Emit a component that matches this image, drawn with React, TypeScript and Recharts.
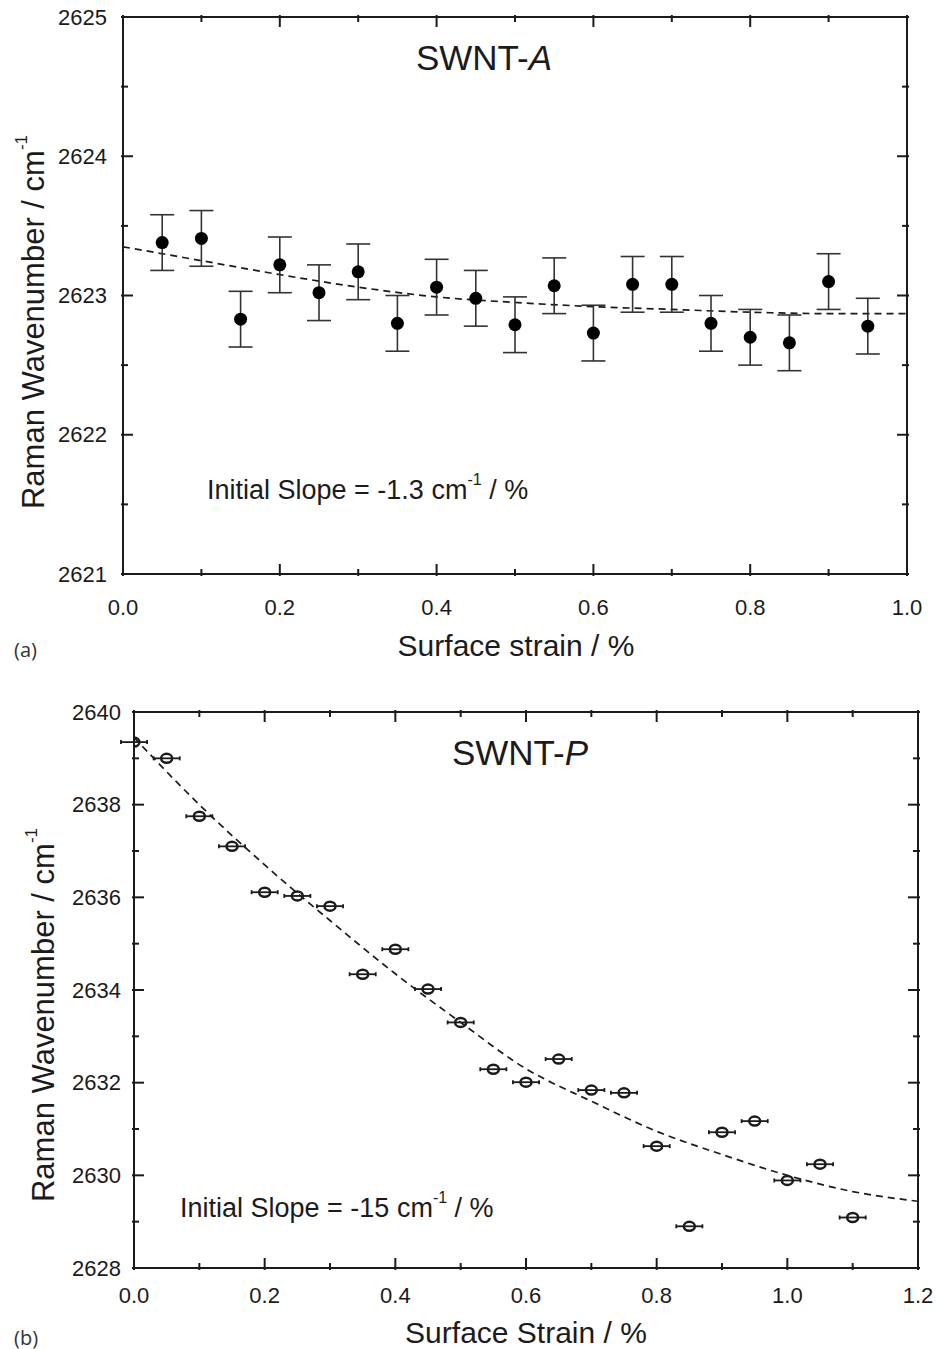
import React from 'react';
import { ComposedChart, Scatter, Line, XAxis, YAxis, ErrorBar } from 'recharts';

// panel (a) SWNT-A
const strainA = [0.05, 0.1, 0.15, 0.2, 0.25, 0.3, 0.35, 0.4, 0.45, 0.5, 0.55, 0.6, 0.65, 0.7, 0.75, 0.8, 0.85, 0.9, 0.95];
const shiftA = [2623.38, 2623.41, 2622.83, 2623.22, 2623.02, 2623.17, 2622.8, 2623.06, 2622.98, 2622.79, 2623.07, 2622.73, 2623.08, 2623.08, 2622.8, 2622.7, 2622.66, 2623.1, 2622.78];
const errA = [0.2, 0.2, 0.2, 0.2, 0.2, 0.2, 0.2, 0.2, 0.2, 0.2, 0.2, 0.2, 0.2, 0.2, 0.2, 0.2, 0.2, 0.2, 0.2];
const fitStrainA = [0, 0.1, 0.2, 0.3, 0.4, 0.5, 0.6, 0.7, 0.8, 0.9, 1.0];
const fitShiftA = [2623.35, 2623.25, 2623.15, 2623.06, 2622.99, 2622.95, 2622.92, 2622.9, 2622.88, 2622.87, 2622.87];
const yTicksA = [2621, 2621.5, 2622, 2622.5, 2623, 2623.5, 2624, 2624.5, 2625];
const yMajorA = [2621, 2622, 2623, 2624, 2625];
const xTicksA = [0, 0.1, 0.2, 0.3, 0.4, 0.5, 0.6, 0.7, 0.8, 0.9, 1.0];
const xMajorA = [0, 0.2, 0.4, 0.6, 0.8, 1.0];

// panel (b) SWNT-P
const strainB = [0, 0.05, 0.1, 0.15, 0.2, 0.25, 0.3, 0.35, 0.4, 0.45, 0.5, 0.55, 0.6, 0.65, 0.7, 0.75, 0.8, 0.85, 0.9, 0.95, 1.0, 1.05, 1.1];
const shiftB = [2639.35, 2639.0, 2637.75, 2637.1, 2636.11, 2636.03, 2635.81, 2634.34, 2634.88, 2634.02, 2633.3, 2632.29, 2632.01, 2632.51, 2631.84, 2631.78, 2630.63, 2628.9, 2630.93, 2631.17, 2629.89, 2630.24, 2629.09];
const errB = [0.02, 0.02, 0.02, 0.02, 0.02, 0.02, 0.02, 0.02, 0.02, 0.02, 0.02, 0.02, 0.02, 0.02, 0.02, 0.02, 0.02, 0.02, 0.02, 0.02, 0.02, 0.02, 0.02];
const fitStrainB = [0, 0.1, 0.2, 0.3, 0.4, 0.5, 0.6, 0.7, 0.8, 0.9, 1.0, 1.1, 1.2];
const fitShiftB = [2639.45, 2638.0, 2636.7, 2635.5, 2634.35, 2633.3, 2632.3, 2631.6, 2630.95, 2630.45, 2630.0, 2629.65, 2629.44];
const yTicksB = [2628, 2629, 2630, 2631, 2632, 2633, 2634, 2635, 2636, 2637, 2638, 2639, 2640];
const yMajorB = [2628, 2630, 2632, 2634, 2636, 2638, 2640];
const xTicksB = [0, 0.1, 0.2, 0.3, 0.4, 0.5, 0.6, 0.7, 0.8, 0.9, 1.0, 1.1, 1.2];
const xMajorB = [0, 0.2, 0.4, 0.6, 0.8, 1.0, 1.2];

const INK = '#1b1b1b';
const FONT = '"Liberation Sans", Arial, sans-serif';

const isIn = (list: number[], v: number) => list.some((m) => Math.abs(m - v) < 1e-6);

// ticks point into the plot, majors longer, labels only on majors of the left/bottom axes
function makeTick(side: 'left' | 'right' | 'top' | 'bottom', majors: number[], labels: boolean, gap: number, fmt: (v: number) => string) {
  return (p: any) => {
    const v = p.payload.value;
    const major = isIn(majors, v);
    const len = major ? 12 : 7;
    const { x, y } = p;
    let line;
    if (side === 'left') line = <line x1={x} y1={y} x2={x + len} y2={y} />;
    else if (side === 'right') line = <line x1={x} y1={y} x2={x - len} y2={y} />;
    else if (side === 'top') line = <line x1={x} y1={y} x2={x} y2={y + len} />;
    else line = <line x1={x} y1={y} x2={x} y2={y - len} />;
    return (
      <g stroke={INK} strokeWidth={2}>
        {line}
        {labels && major && (
          <text
            x={side === 'left' ? x - gap : x}
            y={side === 'bottom' ? y + gap : y}
            textAnchor={side === 'left' ? 'end' : 'middle'}
            dominantBaseline="central"
            stroke="none"
            fill={INK}
            fontSize={22}
            fontFamily={FONT}
          >
            {fmt(v)}
          </text>
        )}
      </g>
    );
  };
}

function OpenEllipse(p: any) {
  return <ellipse cx={p.cx} cy={p.cy} rx={5.5} ry={4.5} fill="none" stroke={INK} strokeWidth={2.5} />;
}

function Panel(props: {
  height: number;
  margin: { top: number; right: number; bottom: number; left: number };
  points: { x: number; y: number; e: number }[];
  fit: { x: number; y: number }[];
  xDomain: [number, number];
  yDomain: [number, number];
  xTicks: number[];
  xMajor: number[];
  yTicks: number[];
  yMajor: number[];
  yGap: number;
  xGap: number;
  open: boolean;
}) {
  const fx = (v: number) => v.toFixed(1);
  const fy = (v: number) => String(v);
  const axisLine = { stroke: INK, strokeWidth: 2 };
  return (
    <ComposedChart width={938} height={props.height} margin={props.margin}>
      <XAxis xAxisId="b" type="number" dataKey="x" domain={props.xDomain} ticks={props.xTicks} interval={0}
        allowDataOverflow height={50} tickSize={0} tickLine={false} axisLine={axisLine}
        tick={makeTick('bottom', props.xMajor, true, props.xGap, fx)} />
      <XAxis xAxisId="t" orientation="top" type="number" dataKey="x" domain={props.xDomain} ticks={props.xTicks} interval={0}
        allowDataOverflow height={5} tickSize={0} tickLine={false} axisLine={axisLine}
        tick={makeTick('top', props.xMajor, false, 0, fx)} />
      <YAxis yAxisId="l" type="number" dataKey="y" domain={props.yDomain} ticks={props.yTicks} interval={0}
        allowDataOverflow width={60} tickSize={0} tickLine={false} axisLine={axisLine}
        tick={makeTick('left', props.yMajor, true, props.yGap, fy)} />
      <YAxis yAxisId="r" orientation="right" type="number" dataKey="y" domain={props.yDomain} ticks={props.yTicks} interval={0}
        allowDataOverflow width={10} tickSize={0} tickLine={false} axisLine={axisLine}
        tick={makeTick('right', props.yMajor, false, 0, fy)} />
      <Line xAxisId="b" yAxisId="l" data={props.fit} dataKey="y" type="monotone" stroke={INK} strokeWidth={1.7}
        strokeDasharray="7 5" dot={false} activeDot={false} isAnimationActive={false} />
      {props.open ? (
        <Scatter xAxisId="b" yAxisId="l" data={props.points} shape={OpenEllipse} isAnimationActive={false}>
          <ErrorBar dataKey="e" direction="x" width={2} stroke={INK} strokeWidth={1.8} isAnimationActive={false} />
        </Scatter>
      ) : (
        <Scatter xAxisId="b" yAxisId="l" data={props.points} fill="#000" isAnimationActive={false}
          shape={(p: any) => <circle cx={p.cx} cy={p.cy} r={6.5} fill="#000" />}>
          <ErrorBar dataKey="e" direction="y" width={12} stroke="#333" strokeWidth={1.6} isAnimationActive={false} />
        </Scatter>
      )}
    </ComposedChart>
  );
}

export default function App() {
  const ptsA = strainA.map((x, i) => ({ x, y: shiftA[i], e: errA[i] }));
  const fitA = fitStrainA.map((x, i) => ({ x, y: fitShiftA[i] }));
  const ptsB = strainB.map((x, i) => ({ x, y: shiftB[i], e: errB[i] }));
  const fitB = fitStrainB.map((x, i) => ({ x, y: fitShiftB[i] }));
  const txt = { fontFamily: FONT, fill: INK };
  return (
    <div style={{ position: 'absolute', left: 0, top: 0, width: 938, height: 1349, background: '#fff', overflow: 'hidden' }}>
      <div style={{ position: 'absolute', left: 0, top: 0 }}>
        <Panel height={680} margin={{ top: 12, right: 21, bottom: 56, left: 63 }} points={ptsA} fit={fitA}
          xDomain={[0, 1]} yDomain={[2621, 2625]} xTicks={xTicksA} xMajor={xMajorA} yTicks={yTicksA} yMajor={yMajorA}
          yGap={14} xGap={31} open={false} />
      </div>
      <div style={{ position: 'absolute', left: 0, top: 680 }}>
        <Panel height={669} margin={{ top: 27, right: 10, bottom: 31, left: 74 }} points={ptsB} fit={fitB}
          xDomain={[0, 1.2]} yDomain={[2628, 2640]} xTicks={xTicksB} xMajor={xMajorB} yTicks={yTicksB} yMajor={yMajorB}
          yGap={11} xGap={25} open={true} />
      </div>
      <svg width={938} height={1349} style={{ position: 'absolute', left: 0, top: 0, pointerEvents: 'none' }}>
        <text x={484} y={57} textAnchor="middle" dominantBaseline="central" fontSize={35} {...txt}>
          SWNT-<tspan fontStyle="italic">A</tspan>
        </text>
        <text x={207} y={490} dominantBaseline="central" fontSize={27} {...txt}>
          Initial Slope = -1.3 cm<tspan dy={-11} fontSize={16}>-1</tspan><tspan dy={11}> / %</tspan>
        </text>
        <text x={516} y={645} textAnchor="middle" dominantBaseline="central" fontSize={30} {...txt}>
          Surface strain / %
        </text>
        <text transform="translate(33 322) rotate(-90)" textAnchor="middle" dominantBaseline="central" fontSize={31} {...txt}>
          Raman Wavenumber / cm<tspan dy={-12} fontSize={17}>-1</tspan>
        </text>
        <text x={14} y={649} dominantBaseline="central" fontSize={20} fontFamily='"Open Sans", sans-serif' fill="#333">(a)</text>

        <text x={520} y={752} textAnchor="middle" dominantBaseline="central" fontSize={35} {...txt}>
          SWNT-<tspan fontStyle="italic">P</tspan>
        </text>
        <text x={180} y={1208} dominantBaseline="central" fontSize={27} {...txt}>
          Initial Slope = -15 cm<tspan dy={-11} fontSize={16}>-1</tspan><tspan dy={11}> / %</tspan>
        </text>
        <text x={526} y={1332} textAnchor="middle" dominantBaseline="central" fontSize={30} {...txt}>
          Surface Strain / %
        </text>
        <text transform="translate(43 1015) rotate(-90)" textAnchor="middle" dominantBaseline="central" fontSize={31} {...txt}>
          Raman Wavenumber / cm<tspan dy={-12} fontSize={17}>-1</tspan>
        </text>
        <text x={14} y={1337} dominantBaseline="central" fontSize={20} fontFamily='"Open Sans", sans-serif' fill="#333">(b)</text>
      </svg>
    </div>
  );
}
